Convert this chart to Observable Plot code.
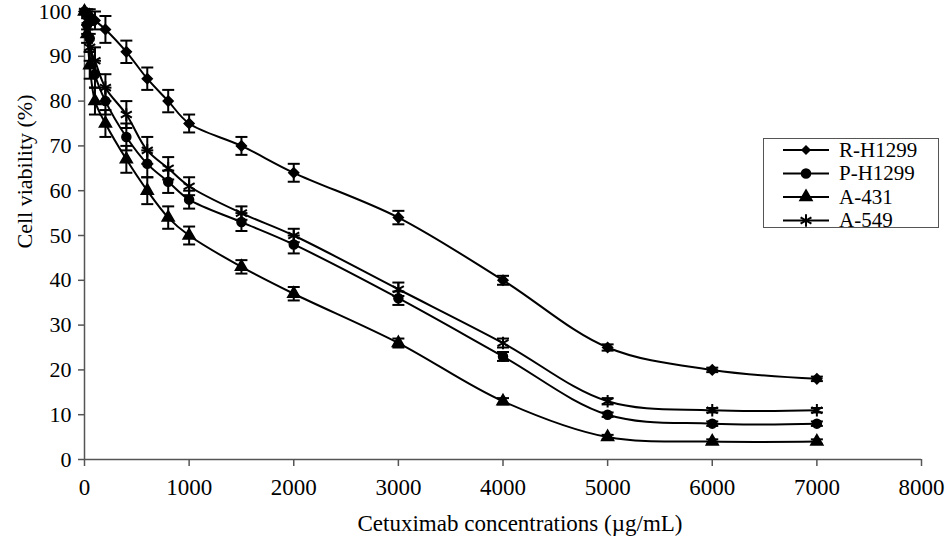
<!DOCTYPE html>
<html><head><meta charset="utf-8">
<script src="https://cdn.jsdelivr.net/npm/d3@7"></script>
<script src="https://cdn.jsdelivr.net/npm/@observablehq/plot@0.6"></script>
<style>
body{margin:0;background:#fff;}
#wrap{position:relative;width:945px;height:541px;font-family:"Liberation Serif","Times New Roman",serif;}
#wrap svg text{font-family:"Liberation Serif","Times New Roman",serif !important;}
#legend{position:absolute;left:763px;top:138px;width:174px;height:88px;border:1px solid #555;background:#fff;}
#legend svg{overflow:visible;display:block;}
</style></head><body><div id="wrap"><div id="legend"></div></div>
<script>
const conc = [0,25,50,100,200,400,600,800,1000,1500,2000,3000,4000,5000,6000,7000];
const seriesNames = ["R-H1299","P-H1299","A-431","A-549"];
const rH1299 = [100,99.5,99,98,96,91,85,80,75,70,64,54,40,25,20,18];
const pH1299 = [100,97,94,86,80,72,66,62,58,53,48,36,23,10,8,8];
const a431   = [100,95,88,80,75,67,60,54,50,43,37,26,13,5,4,4];
const a549   = [100,98,92,89,83,77,69,65,61,55,50,38,26,13,11,11];
const rH1299Err = [0,1,1.5,2,3,2.5,2.5,2.5,2,2,2,1.5,1,0.7,0.5,0.5];
const pH1299Err = [0,2,3,3,3,3,3,2.5,2,2,2,1.5,1,0.5,0.5,0.5];
const a431Err   = [0,2,3,3,3,3,3,2.5,2,1.5,1.5,1,0.7,0.5,0.5,0.5];
const a549Err   = [0,2,3,3,3,3,3,2.5,2,1.5,1.5,1.5,1,0.7,0.5,0.5];
const xTicks = [0,1000,2000,3000,4000,5000,6000,7000,8000];
const yTicks = [0,10,20,30,40,50,60,70,80,90,100];
const xLabel = "Cetuximab concentrations (\u00b5g/mL)";
const yLabel = "Cell viability (%)";

const valuesBySeries = [rH1299, pH1299, a431, a549];
const errBySeries = [rH1299Err, pH1299Err, a431Err, a549Err];
const data = [];
seriesNames.forEach((s, k) => conc.forEach((c, i) => data.push({series: s, x: c, y: valuesBySeries[k][i], err: errBySeries[k][i]})));
const errData = data.filter(d => d.err > 0);
const filledData = data.filter(d => d.series !== "A-549");
const starData = data.filter(d => d.series === "A-549");

const cap = {draw(ctx, size){ const w = Math.sqrt(size/Math.PI); ctx.moveTo(-w,0); ctx.lineTo(w,0); }};
const symbolRange = ["diamond2","circle","triangle","asterisk"];
const serif = '"Liberation Serif","Times New Roman",serif';

const chart = Plot.plot({
  width: 945, height: 541,
  marginLeft: 84, marginTop: 11, marginRight: 24, marginBottom: 82,
  style: {fontFamily: serif, fontSize: "22px", color: "#000", background: "transparent", overflow: "visible"},
  x: {domain: [0, 8000]},
  y: {domain: [0, 100]},
  symbol: {domain: seriesNames, range: symbolRange},
  marks: [
    Plot.ruleY([0], {stroke: "#555", strokeWidth: 1.5}),
    Plot.ruleX([0], {stroke: "#555", strokeWidth: 1.5}),
    Plot.axisX({ticks: xTicks, tickSize: 7, tickPadding: 12, fontSize: 23, fontFamily: serif, tickFormat: d3.format("d"), label: null, stroke: "#555", strokeWidth: 1.5}),
    Plot.axisY({ticks: yTicks, tickSize: 6, tickPadding: 7, fontSize: 22, fontFamily: serif, label: null, stroke: "#555", strokeWidth: 1.5}),
    Plot.line(data, {x: "x", y: "y", z: "series", curve: "catmull-rom", stroke: "#000", strokeWidth: 2}),
    Plot.ruleX(errData, {x: "x", y1: d => d.y - d.err, y2: d => d.y + d.err, stroke: "#000", strokeWidth: 2}),
    Plot.dot(errData, {x: "x", y: d => d.y - d.err, symbol: () => cap, r: 6, stroke: "#000", strokeWidth: 2, fill: "none"}),
    Plot.dot(errData, {x: "x", y: d => d.y + d.err, symbol: () => cap, r: 6, stroke: "#000", strokeWidth: 2, fill: "none"}),
    Plot.dot(filledData, {x: "x", y: "y", symbol: "series", r: 4.5, fill: "#000", stroke: "#000", strokeWidth: 1.5}),
    Plot.dot(starData, {x: "x", y: "y", symbol: "series", r: 6, fill: "none", stroke: "#000", strokeWidth: 2}),
    Plot.text([xLabel], {text: d => d, frameAnchor: "bottom", dx: 17, dy: 71, fontSize: 23, fontFamily: serif}),
    Plot.text([yLabel], {text: d => d, frameAnchor: "left", dx: -60, dy: 13, rotate: -90, fontSize: 22, fontFamily: serif})
  ]
});
document.getElementById("wrap").prepend(chart);

// legend
const lg = d3.select("#legend").append("svg").attr("width", 174).attr("height", 88);
const symTypes = [d3.symbolDiamond2, d3.symbolCircle, d3.symbolTriangle, d3.symbolAsterisk];
seriesNames.forEach((s, k) => {
  const cy = 11 + k * 23.5;
  lg.append("line").attr("x1", 19).attr("x2", 65).attr("y1", cy).attr("y2", cy).attr("stroke", "#000").attr("stroke-width", 2);
  lg.append("path").attr("transform", `translate(42,${cy})`)
    .attr("d", d3.symbol(symTypes[k], k === 0 ? 40 : k === 3 ? 110 : 64)())
    .attr("fill", k === 3 ? "none" : "#000").attr("stroke", "#000").attr("stroke-width", k === 3 ? 2 : 1.5);
  lg.append("text").attr("x", 75).attr("y", cy).attr("dy", "0.33em")
    .attr("font-size", 21).attr("font-family", serif).text(s);
});
</script></body></html>
